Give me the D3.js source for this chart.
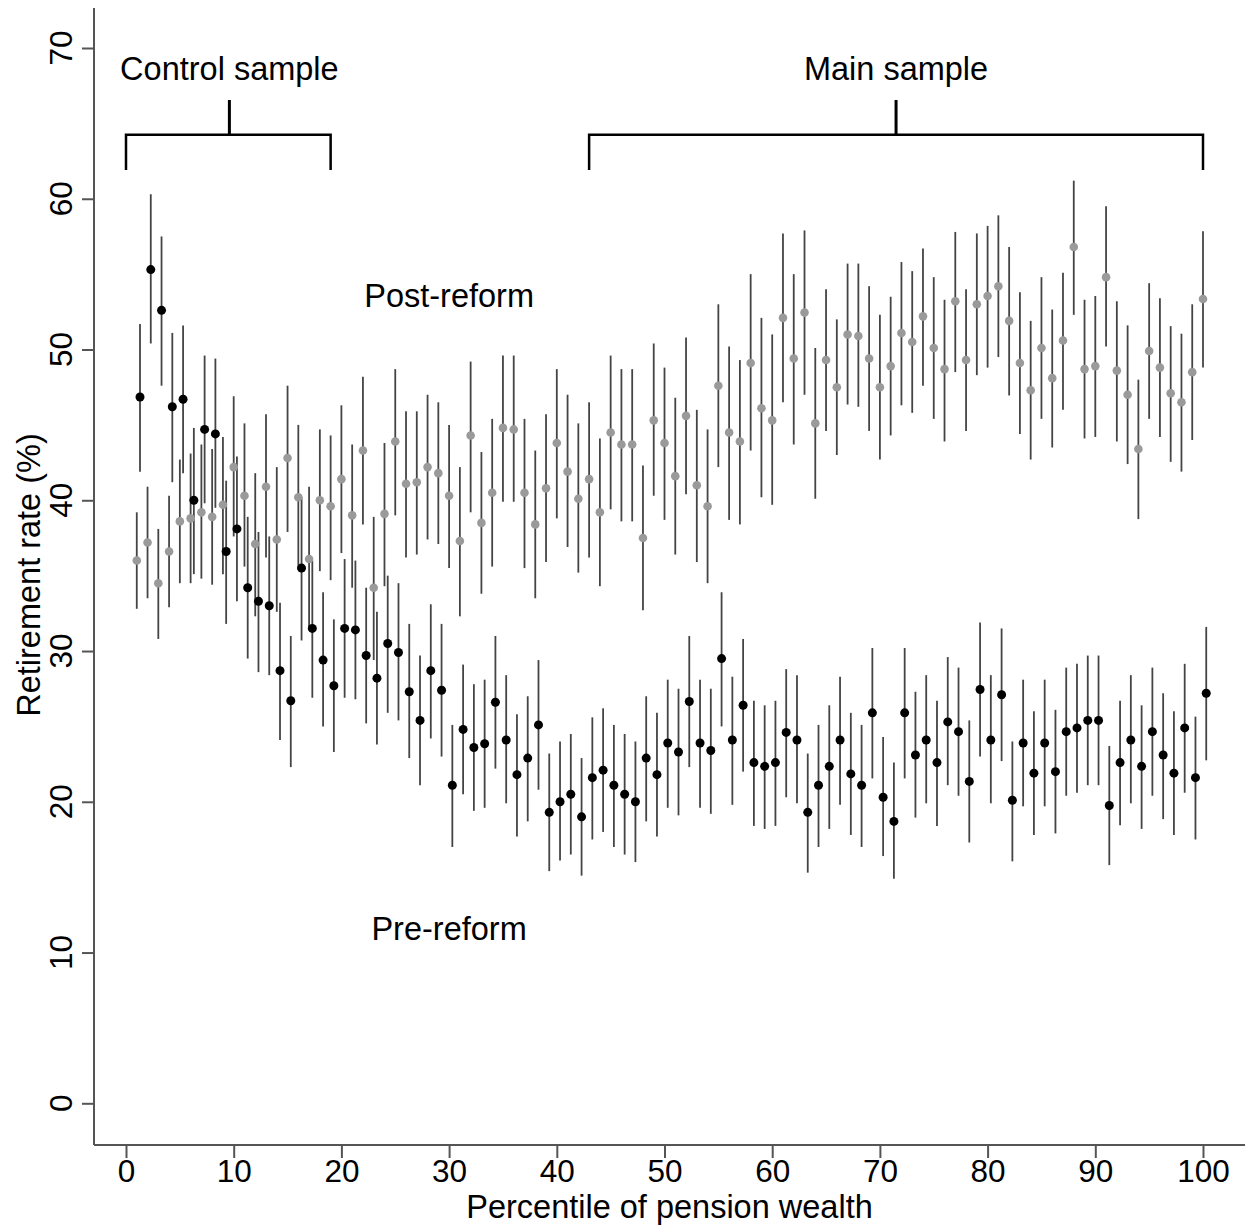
<!DOCTYPE html>
<html>
<head>
<meta charset="utf-8">
<script src="https://cdn.jsdelivr.net/npm/d3@7"></script>
<style>
	body { margin: 0; background: #fff; }
	svg text { font-family: Arial, "Liberation Sans", sans-serif; fill: #000; }
</style>
</head>
<body>
<svg id="chart" width="1248" height="1228"></svg>
<script>
'use strict';

// percentiles of pension wealth (1..100)
const percentiles = d3.range(1, 101);

// pre-reform retirement rate (%) and 95% CI
const preRate = [46.85,55.3,52.6,46.2,46.7,40.0,44.7,44.4,36.6,38.1,
	34.2,33.3,33.0,28.7,26.7,35.5,31.5,29.4,27.7,31.5,
	31.4,29.7,28.2,30.5,29.9,27.3,25.4,28.7,27.4,21.1,
	24.8,23.6,23.85,26.6,24.1,21.8,22.9,25.1,19.3,20.0,
	20.5,19.0,21.6,22.1,21.1,20.5,20.0,22.9,21.8,23.9,
	23.3,26.65,23.9,23.4,29.5,24.1,26.4,22.6,22.35,22.6,
	24.6,24.1,19.3,21.1,22.35,24.1,21.85,21.1,25.9,20.3,
	18.7,25.9,23.1,24.1,22.6,25.3,24.65,21.35,27.45,24.1,
	27.1,20.1,23.9,21.9,23.9,22.0,24.65,24.9,25.4,25.4,
	19.75,22.6,24.1,22.35,24.65,23.1,21.9,24.9,21.6,27.2];
const preLow = [41.9,50.4,47.6,41.2,41.8,35.1,39.8,39.5,31.8,33.3,
	29.5,28.6,28.4,24.1,22.3,30.7,26.9,25.0,23.3,26.9,
	26.8,25.2,23.8,25.9,25.4,22.9,21.1,24.2,23.0,17.0,
	20.5,19.4,19.6,22.2,19.9,17.7,18.7,20.8,15.4,16.1,
	16.5,15.1,17.5,18.0,17.0,16.5,16.0,18.7,17.7,19.6,
	19.1,22.3,19.6,19.2,25.0,19.8,22.0,18.4,18.2,18.4,
	20.3,19.9,15.3,17.0,18.2,19.8,17.8,17.0,21.55,16.4,
	14.9,21.55,18.95,19.9,18.4,21.1,20.4,17.3,23.0,19.9,
	22.7,16.05,19.7,17.8,19.7,17.9,20.4,20.6,21.1,21.1,
	15.8,18.45,19.9,18.2,20.4,18.85,17.8,20.6,17.5,22.75];
const preHigh = [51.7,60.3,57.5,51.1,51.6,44.8,49.6,49.4,41.3,42.9,
	38.9,37.9,37.6,33.2,31.0,40.2,36.0,33.9,32.1,36.1,
	36.0,34.2,32.6,35.0,34.5,31.8,29.7,33.1,31.8,25.1,
	29.1,27.8,28.1,31.0,28.4,25.8,27.0,29.4,23.2,24.0,
	24.5,22.9,25.6,26.2,25.1,24.5,24.0,27.0,25.9,28.1,
	27.5,31.0,28.1,27.5,33.9,28.3,30.8,26.7,26.4,26.7,
	28.8,28.4,23.2,25.1,26.4,28.3,25.9,25.1,30.2,24.3,
	22.6,30.2,27.3,28.4,26.7,29.6,28.9,25.4,31.9,28.4,
	31.5,24.0,28.1,26.0,28.1,26.1,28.9,29.15,29.7,29.7,
	23.7,26.7,28.4,26.4,28.9,27.2,26.0,29.15,25.65,31.6];

// post-reform retirement rate (%) and 95% CI
const postRate = [36.0,37.2,34.5,36.6,38.6,38.8,39.2,38.9,39.7,42.2,
	40.3,37.1,40.9,37.4,42.8,40.2,36.1,40.0,39.6,41.4,
	39.0,43.3,34.2,39.1,43.9,41.1,41.2,42.2,41.8,40.3,
	37.3,44.3,38.5,40.5,44.8,44.7,40.5,38.4,40.8,43.8,
	41.9,40.1,41.4,39.2,44.5,43.7,43.7,37.5,45.3,43.8,
	41.6,45.6,41.0,39.6,47.6,44.5,43.9,49.1,46.1,45.3,
	52.1,49.4,52.45,45.1,49.3,47.5,51.0,50.9,49.4,47.5,
	48.9,51.1,50.5,52.2,50.1,48.7,53.2,49.3,53.0,53.55,
	54.2,51.9,49.1,47.3,50.1,48.1,50.6,56.8,48.7,48.9,
	54.8,48.6,47.0,43.4,49.9,48.8,47.1,46.5,48.5,53.35];
const postLow = [32.8,33.5,30.8,32.9,34.5,34.5,34.8,34.4,35.1,37.6,
	35.6,32.3,36.2,32.6,37.9,35.4,31.4,35.3,34.7,36.5,
	34.2,38.4,29.4,34.3,39.0,36.2,36.4,37.4,37.1,35.5,
	32.3,39.2,33.8,35.6,39.9,39.9,35.5,33.5,35.9,38.8,
	36.9,35.2,36.2,34.3,39.4,38.6,38.6,32.7,40.3,38.7,
	36.4,40.4,35.9,34.5,42.2,38.7,38.4,43.3,40.2,39.7,
	46.5,43.7,47.0,40.1,44.6,43.0,46.35,46.2,44.6,42.7,
	44.3,46.3,45.8,47.6,45.4,43.9,48.5,44.6,48.3,48.8,
	49.5,46.95,44.4,42.7,45.4,43.5,46.0,52.3,44.1,44.2,
	50.2,43.9,42.4,38.75,45.4,44.2,42.55,41.9,44.0,48.8];
const postHigh = [39.2,40.9,38.1,40.3,42.7,43.1,43.7,43.4,44.2,46.9,
	45.1,41.8,45.7,42.2,47.6,45.0,40.9,44.7,44.3,46.3,
	43.7,48.2,38.9,43.8,48.7,45.9,45.9,47.0,46.5,45.0,
	42.2,49.2,43.2,45.4,49.6,49.6,45.4,43.3,45.7,48.7,
	47.0,45.1,46.5,44.1,49.6,48.7,48.7,42.3,50.4,48.8,
	46.8,50.8,46.0,44.7,53.0,50.2,49.3,55.0,52.1,51.0,
	57.7,55.0,57.9,50.1,54.0,52.0,55.7,55.7,54.2,52.3,
	53.5,55.8,55.2,56.7,54.8,53.3,57.8,54.0,57.7,58.2,
	58.9,56.8,53.8,51.9,54.8,52.65,55.1,61.2,53.3,53.55,
	59.5,53.2,51.6,48.0,54.4,53.4,51.55,51.05,53.0,57.85];

// axis ticks
const xTicks = [0, 10, 20, 30, 40, 50, 60, 70, 80, 90, 100];
const yTicks = [0, 10, 20, 30, 40, 50, 60, 70];

// sample brackets (percentile ranges)
const samples = ['Control sample', 'Main sample'];
const sampleFrom = [0, 43];
const sampleTo = [19, 100];
const sampleMid = [9.6, 71.5];

const seriesNames = ['Post-reform', 'Pre-reform'];

const svg = d3.select('#chart');
const margin = {top: 8, right: 3, bottom: 83, left: 94};
const width = 1248, height = 1228;

const x = d3.scaleLinear().domain([0, 100]).range([126, 1203]);
const y = d3.scaleLinear().domain([0, 70]).range([1103.3, 48]);
const preShift = 0.3;

// axes
const axisColor = '#555';
const gx = svg.append('g')
	.attr('transform', 'translate(0,' + (height - margin.bottom) + ')')
	.call(d3.axisBottom(x).tickValues(xTicks).tickSize(13).tickPadding(2).tickSizeOuter(0));
gx.select('.domain').remove();
gx.selectAll('.tick line').attr('stroke', axisColor).attr('stroke-width', 2);
gx.selectAll('.tick text').attr('font-size', 31.5).attr('fill', '#000');
svg.append('line')
	.attr('x1', margin.left).attr('x2', width - margin.right)
	.attr('y1', height - margin.bottom).attr('y2', height - margin.bottom)
	.attr('stroke', axisColor).attr('stroke-width', 2);

const gy = svg.append('g')
	.attr('transform', 'translate(' + margin.left + ',0)')
	.call(d3.axisLeft(y).tickValues(yTicks).tickSize(12).tickSizeOuter(0));
gy.select('.domain').remove();
gy.selectAll('.tick line').attr('stroke', axisColor).attr('stroke-width', 2);
gy.selectAll('.tick text').remove();
svg.append('line')
	.attr('x1', margin.left).attr('x2', margin.left)
	.attr('y1', margin.top).attr('y2', height - margin.bottom)
	.attr('stroke', axisColor).attr('stroke-width', 2);
svg.append('g').selectAll('text')
	.data(yTicks)
	.join('text')
		.attr('transform', d => 'translate(72,' + y(d) + ') rotate(-90)')
		.attr('text-anchor', 'middle')
		.attr('font-size', 31.5)
		.text(d => d);

svg.append('text')
	.attr('x', (x(0) + x(100)) / 2 + 5)
	.attr('y', 1218)
	.attr('text-anchor', 'middle')
	.attr('font-size', 32.5)
	.text('Percentile of pension wealth');
svg.append('text')
	.attr('transform', 'translate(40,' + 575 + ') rotate(-90)')
	.attr('text-anchor', 'middle')
	.attr('font-size', 32.5)
	.text('Retirement rate (%)');

// confidence intervals
const rows = percentiles.map((p, i) => ({
	p,
	pre: preRate[i], preLow: preLow[i], preHigh: preHigh[i],
	post: postRate[i], postLow: postLow[i], postHigh: postHigh[i]
}));
const ciColor = '#444';
svg.append('g').selectAll('line')
	.data(rows)
	.join('line')
		.attr('x1', d => x(d.p)).attr('x2', d => x(d.p))
		.attr('y1', d => y(d.postLow)).attr('y2', d => y(d.postHigh))
		.attr('stroke', ciColor).attr('stroke-width', 1.8);
svg.append('g').selectAll('line')
	.data(rows)
	.join('line')
		.attr('x1', d => x(d.p + preShift)).attr('x2', d => x(d.p + preShift))
		.attr('y1', d => y(d.preLow)).attr('y2', d => y(d.preHigh))
		.attr('stroke', ciColor).attr('stroke-width', 1.8);

// point estimates
svg.append('g').selectAll('circle')
	.data(rows)
	.join('circle')
		.attr('cx', d => x(d.p)).attr('cy', d => y(d.post))
		.attr('r', 4.3)
		.attr('fill', '#9a9a9a');
svg.append('g').selectAll('circle')
	.data(rows)
	.join('circle')
		.attr('cx', d => x(d.p + preShift)).attr('cy', d => y(d.pre))
		.attr('r', 4.5)
		.attr('fill', '#000');

// sample brackets
const bTop = 64.25, bEnd = 61.9, bStem = 66.55, bLabel = 67.9;
const gb = svg.append('g').attr('fill', 'none').attr('stroke', '#000');
samples.forEach((s, i) => {
	gb.append('path')
		.attr('stroke-width', 2.5)
		.attr('d', 'M' + x(sampleFrom[i]) + ',' + y(bEnd) + 'V' + y(bTop) +
			'H' + x(sampleTo[i]) + 'V' + y(bEnd));
	gb.append('line')
		.attr('stroke-width', 3)
		.attr('x1', x(sampleMid[i])).attr('x2', x(sampleMid[i]))
		.attr('y1', y(bTop)).attr('y2', y(bStem));
	svg.append('text')
		.attr('x', x(sampleMid[i]))
		.attr('y', y(bLabel))
		.attr('text-anchor', 'middle')
		.attr('font-size', 32.5)
		.text(s);
});

// series labels
svg.append('text')
	.attr('x', x(30)).attr('y', y(52.8))
	.attr('text-anchor', 'middle').attr('font-size', 32.5)
	.text(seriesNames[0]);
svg.append('text')
	.attr('x', x(30)).attr('y', y(10.8))
	.attr('text-anchor', 'middle').attr('font-size', 32.5)
	.text(seriesNames[1]);
</script>
</body>
</html>
